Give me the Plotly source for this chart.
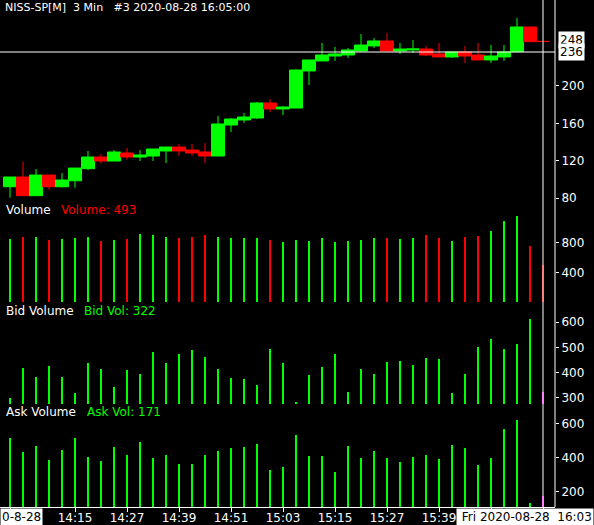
import plotly.graph_objects as go

# ---------------- data ----------------
bar_index = list(range(42))
opens = [92.1,102.5,82.5,104.6,92.1,98.5,111.4,123.9,119.6,128.2,
         123.9,125.0,130.4,134.6,131.4,129.3,125.0,158.2,163.6,165.7,
         181.8,175.4,176.4,216.1,226.8,232.1,233.2,237.5,242.9,248.2,
         237.5,238.6,239.6,234.3,231.1,236.4,233.2,227.9,231.1,236.7,
         263.2,247.8]
highs = [102.5,118.9,111.1,104.6,106.8,112.1,130.4,127.1,131.4,133.6,
         131.4,132.5,134.6,137.9,137.9,138.9,167.9,165.7,171.1,182.9,
         186.1,178.6,218.2,227.9,246.1,241.8,240.7,255.7,251.4,256.8,
         246.1,249.3,242.9,246.1,236.4,242.9,246.1,243.9,243.9,272.9,
         263.2,247.8]
lows = [80.3,82.5,82.5,88.9,91.0,91.0,110.0,116.8,119.6,121.0,
        119.6,119.6,117.5,125.3,125.3,117.5,125.0,150.7,160.4,164.6,
        172.1,168.9,176.4,201.1,226.8,226.8,230.0,236.4,240.7,237.5,
        234.3,235.4,232.1,231.1,230.0,224.6,227.9,224.6,226.8,236.7,
        247.5,247.6]
closes = [102.5,82.5,104.6,92.1,99.3,112.1,123.9,119.6,129.3,123.9,
          126.1,132.5,134.6,130.4,128.2,125.0,159.3,164.6,166.8,181.8,
          175.4,177.5,217.1,227.9,233.2,234.3,238.6,243.9,248.2,237.5,
          239.6,239.6,233.2,231.1,236.4,232.1,227.9,232.1,236.4,263.2,
          247.5,247.6]
volume = [844,871,871,831,848,857,871,817,831,848,911,897,871,857,871,897,871,857,857,857,831,804,
          831,817,857,804,817,831,857,857,844,857,897,857,817,871,884,951,1084,1151,751,493]
bid_vol = [300,418,382,426,382,319,438,414,342,410,394,481,438,473,489,461,414,378,374,350,493,438,
           283,390,422,473,323,414,394,442,446,430,458,454,319,394,501,533,493,513,612,322]
ask_vol = [516,433,469,386,445,516,404,380,463,416,493,398,416,362,362,416,439,457,463,481,326,344,
           534,410,410,315,469,398,439,398,374,404,416,392,475,457,356,398,570,623,131,171]
tick_idx = [0,5,9,13,17,21,25,29,33,37,41]
tick_text = ["","14:15","14:27","14:39","14:51","15:03","15:15","15:27","15:39","",""]
price_ticks = [80,120,160,200]
vol_ticks = [400,800]
bid_ticks = [300,400,500,600]
ask_ticks = [200,400,600]
crosshair_idx = 41
crosshair_price = 236.4
title_text = "NISS-SP[M]\u00a0\u00a03 Min\u00a0\u00a0\u00a0#3 2020-08-28 16:05:00"
start_label = "0-8-28"
cursor_label = "\u00a0Fri 2020-08-28\u00a0\u00a016:03"

GREEN = "#00ff00"
RED = "#ff0000"
MAG = "#ff00ff"
FONT = "DejaVu Sans"

PW, PH = 555.0, 507.0
def px(x):
    return x / PW
def py(y):
    return 1 - y / PH

vol_colors = [GREEN if c >= o else RED for o, c in zip(opens, closes)]
bid_colors = [GREEN] * (len(bid_vol) - 1) + [MAG]
ask_colors = [GREEN] * (len(ask_vol) - 1) + [MAG]

fig = go.Figure()
fig.add_trace(go.Candlestick(
    x=bar_index, open=opens, high=highs, low=lows, close=closes,
    increasing=dict(line=dict(color=GREEN, width=1), fillcolor=GREEN),
    decreasing=dict(line=dict(color=RED, width=1), fillcolor=RED),
    whiskerwidth=0, xaxis="x", yaxis="y", hoverinfo="skip"))
fig.add_trace(go.Bar(x=bar_index, y=volume, width=0.16, marker=dict(color=vol_colors, line=dict(width=0)),
                     xaxis="x", yaxis="y2"))
fig.add_trace(go.Bar(x=bar_index, y=bid_vol, width=0.08, marker=dict(color=bid_colors, line=dict(width=0)),
                     xaxis="x", yaxis="y3"))
fig.add_trace(go.Bar(x=bar_index, y=ask_vol, width=0.08, marker=dict(color=ask_colors, line=dict(width=0)),
                     xaxis="x", yaxis="y4"))

yax = dict(side="right", anchor="x", showgrid=False, zeroline=False, showline=False,
           ticks="outside", ticklen=3, tickcolor="white", automargin=False,
           tickfont=dict(color="white", size=12, family=FONT), fixedrange=True)

fig.update_layout(
    width=594, height=525,
    margin=dict(l=0, r=39, t=0, b=18, autoexpand=False),
    paper_bgcolor="black", plot_bgcolor="black",
    showlegend=False, boxgap=0, boxgroupgap=0, bargap=0,
    xaxis=dict(range=[-10/13, 545/13], domain=[0, 1], anchor="y4", automargin=False,
               tickvals=tick_idx, ticktext=tick_text, ticks="outside", ticklen=4,
               ticklabelstandoff=-4,
               tickcolor="white", showline=True, linecolor="white", linewidth=1,
               showgrid=False, zeroline=False, rangeslider=dict(visible=False),
               tickfont=dict(color="white", size=12, family=FONT), fixedrange=True),
    yaxis=dict(domain=[py(201), 1], range=[76.8, 292.1], tickvals=price_ticks, **yax),
    yaxis2=dict(domain=[py(303), py(201)], range=[-9, 1351], tickvals=vol_ticks, **yax),
    yaxis3=dict(domain=[py(404), py(303)], range=[275, 676], tickvals=bid_ticks, **yax),
    yaxis4=dict(domain=[0, py(404)], range=[106.8, 718.4], tickvals=ask_ticks, **yax),
)

shapes = [
    dict(type="line", xref="paper", yref="paper", x0=1, x1=1, y0=0, y1=1,
         line=dict(color="white", width=1)),
    dict(type="line", xref="x", yref="paper", x0=crosshair_idx, x1=crosshair_idx, y0=0, y1=1,
         line=dict(color="white", width=1)),
    dict(type="line", xref="paper", yref="y", x0=0, x1=1, y0=crosshair_price, y1=crosshair_price,
         line=dict(color="white", width=1)),
]
fig.update_layout(shapes=shapes)

def label(text, x, y, color, xanchor="left", bg=None, xref="paper", yref="paper", size=12):
    d = dict(text=text, x=x, y=y, xref=xref, yref=yref, xanchor=xanchor, yanchor="middle",
             showarrow=False, font=dict(color=color, size=size, family=FONT))
    if bg:
        d["bgcolor"] = bg
        d["borderpad"] = 1
    return d

last_close = closes[-1]
ann = [
    label(title_text, px(3), py(8), "white", size=11),
    label("Volume", px(4), py(210), "white"),
    label(f"Volume: {volume[-1]}", px(59), py(210), RED),
    label("Bid Volume", px(4), py(311), "white"),
    label(f"Bid Vol: {bid_vol[-1]}", px(82), py(311), GREEN),
    label("Ask Volume", px(4), py(411.7), "white"),
    label(f"Ask Vol: {ask_vol[-1]}", px(85), py(411.7), GREEN),
    label(f"{round(last_close)}", px(558), last_close + 1.5, "black", bg="white", yref="y"),
    label(f"{int(crosshair_price)}", px(558), crosshair_price, "black", bg="white", yref="y"),
    label(start_label, px(0), py(517), "black", bg="white"),
    label(cursor_label, px(456), py(517), "black", bg="white"),
]
fig.update_layout(annotations=ann)

fig.write_html("out.html", config={"displayModeBar": False},
               post_script="document.body.style.margin='0';document.body.style.overflow='hidden';")
